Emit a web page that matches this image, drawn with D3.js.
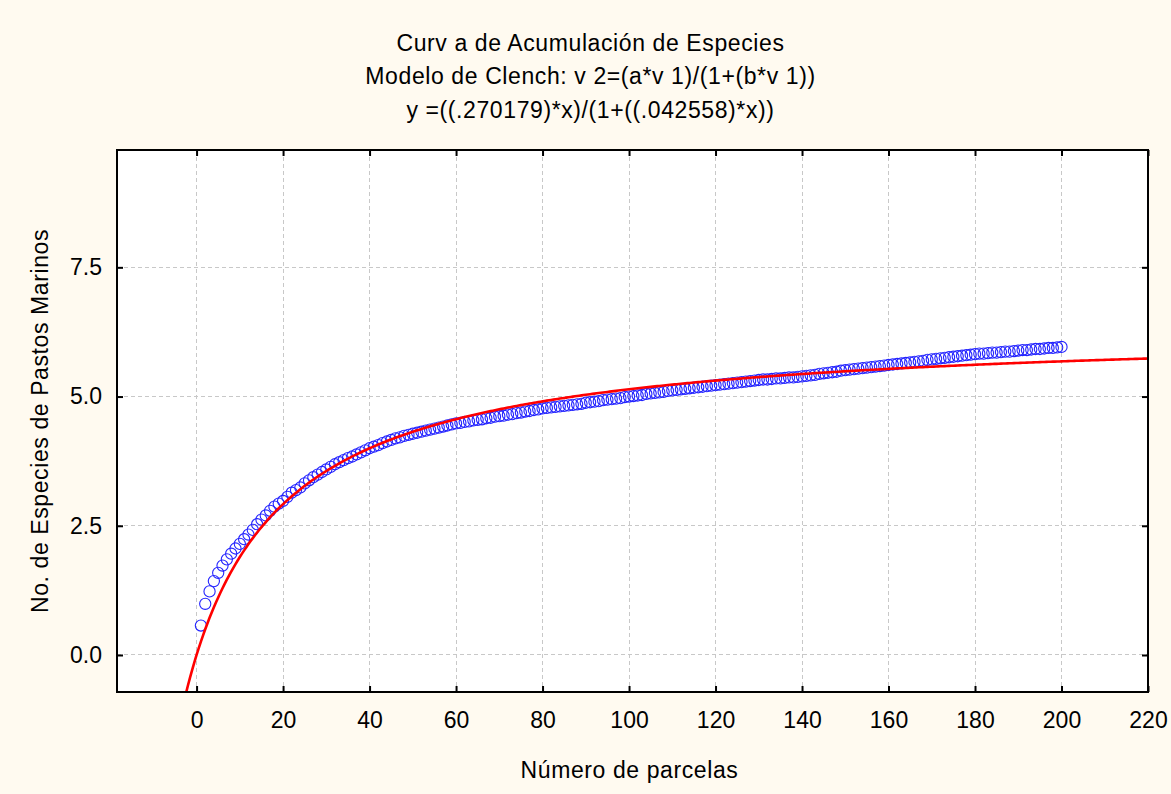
<!DOCTYPE html>
<html>
<head>
<meta charset="utf-8">
<script src="https://cdn.jsdelivr.net/npm/d3@7"></script>
<style>
  body { margin: 0; background: #fffaf0; }
  svg { display: block; font-family: Arial, "Liberation Sans", sans-serif; }
</style>
</head>
<body>
<div class="box"></div>
<script>
let titles = [
    "Curv a de Acumulación de Especies",
    "Modelo de Clench: v 2=(a*v 1)/(1+(b*v 1))",
    "y =((.270179)*x)/(1+((.042558)*x))"
]
let xTitle = "Número de parcelas"
let yTitle = "No. de Especies de Pastos Marinos"
let xTicks = [0, 20, 40, 60, 80, 100, 120, 140, 160, 180, 200, 220]
let yTicks = [0, 2.5, 5, 7.5]

// fitted Clench params (from the title)
let clenchA = 0.270179
let clenchB = 0.042558

// mean accumulated species, parcela 1..200
let especies = [
    0.57, 0.99, 1.23, 1.43, 1.59, 1.73, 1.85, 1.96, 2.06, 2.15,
    2.24, 2.33, 2.42, 2.53, 2.62, 2.70, 2.79, 2.87, 2.93, 2.98,
    3.06, 3.14, 3.19, 3.24, 3.32, 3.38, 3.44, 3.49, 3.54, 3.59,
    3.64, 3.69, 3.73, 3.77, 3.81, 3.84, 3.88, 3.92, 3.96, 4.00,
    4.03, 4.06, 4.10, 4.13, 4.16, 4.19, 4.21, 4.24, 4.26, 4.28,
    4.30, 4.32, 4.34, 4.36, 4.38, 4.40, 4.42, 4.44, 4.46, 4.48,
    4.49, 4.51, 4.52, 4.54, 4.55, 4.56, 4.58, 4.59, 4.61, 4.62,
    4.63, 4.65, 4.66, 4.68, 4.69, 4.71, 4.72, 4.74, 4.75, 4.77,
    4.78, 4.79, 4.80, 4.81, 4.82, 4.83, 4.84, 4.85, 4.86, 4.88,
    4.89, 4.90, 4.91, 4.93, 4.94, 4.95, 4.96, 4.97, 4.99, 5.00,
    5.01, 5.02, 5.03, 5.05, 5.06, 5.07, 5.08, 5.09, 5.11, 5.12,
    5.13, 5.14, 5.15, 5.16, 5.17, 5.18, 5.19, 5.20, 5.21, 5.22,
    5.23, 5.24, 5.25, 5.26, 5.27, 5.28, 5.29, 5.30, 5.31, 5.32,
    5.33, 5.33, 5.34, 5.35, 5.35, 5.36, 5.37, 5.37, 5.38, 5.39,
    5.40, 5.41, 5.42, 5.44, 5.45, 5.46, 5.47, 5.48, 5.50, 5.51,
    5.52, 5.53, 5.54, 5.55, 5.56, 5.57, 5.58, 5.59, 5.60, 5.61,
    5.62, 5.63, 5.64, 5.65, 5.66, 5.67, 5.68, 5.69, 5.71, 5.72,
    5.73, 5.74, 5.75, 5.76, 5.77, 5.78, 5.79, 5.80, 5.81, 5.82,
    5.83, 5.83, 5.84, 5.85, 5.85, 5.86, 5.87, 5.87, 5.88, 5.89,
    5.90, 5.90, 5.91, 5.92, 5.92, 5.93, 5.94, 5.94, 5.95, 5.96
]

let W = 1171
let H = 794
let pL = 117, pR = 1148, pT = 150, pB = 692
let fs = 23
let ls = "0.6px"

let svg = d3.select('.box')
    .append("svg")
    .attr("width", W)
    .attr("height", H)

svg.append("rect")
    .attr("width", W)
    .attr("height", H)
    .style("fill", "#fffaf0")

let x = d3.scaleLinear().domain([-18.4, 220]).range([pL, pR])
let y = d3.scaleLinear().domain([-0.716, 9.77]).range([pB, pT])

svg.append("rect")
    .attr("x", pL)
    .attr("y", pT)
    .attr("width", pR - pL)
    .attr("height", pB - pT)
    .style("fill", "#fff")

svg.append("clipPath").attr("id", "clip")
    .append("rect")
    .attr("x", pL)
    .attr("y", pT)
    .attr("width", pR - pL)
    .attr("height", pB - pT)

// grid
let grid = svg.append("g")
grid.selectAll(".gx").data(xTicks.filter(d => d < 220)).enter()
    .append("line")
    .attr("x1", d => x(d)).attr("x2", d => x(d))
    .attr("y1", pT).attr("y2", pB)
grid.selectAll(".gy").data(yTicks).enter()
    .append("line")
    .attr("x1", pL).attr("x2", pR)
    .attr("y1", d => y(d)).attr("y2", d => y(d))
grid.selectAll("line")
    .style("stroke", "#c8c8c8")
    .style("stroke-width", 1)
    .style("stroke-dasharray", "4,3")
    .attr("shape-rendering", "crispEdges")

// axes, ticks pointing inside on all four sides
let tk = 6
let axB = d3.axisBottom(x).tickValues(xTicks).tickSizeInner(-tk).tickSizeOuter(0).tickPadding(20)
let axT = d3.axisTop(x).tickValues(xTicks).tickSizeInner(-tk).tickSizeOuter(0).tickFormat("")
let axL = d3.axisLeft(y).tickValues(yTicks).tickSizeInner(-tk).tickSizeOuter(0).tickPadding(15).tickFormat(d3.format(".1f"))
let axR = d3.axisRight(y).tickValues(yTicks).tickSizeInner(-tk).tickSizeOuter(0).tickFormat("")

let mk = (ax, tr) => {
    let g = svg.append("g").attr("transform", tr).call(ax)
    g.select(".domain").remove()
    g.selectAll(".tick line").style("stroke", "#000").style("stroke-width", 2)
    g.selectAll("text").style("font-size", fs + "px").style("fill", "#000")
    g.attr("font-family", "Arial, 'Liberation Sans', sans-serif")
    return g
}
mk(axB, `translate(0,${pB})`)
mk(axT, `translate(0,${pT})`)
mk(axL, `translate(${pL},0)`)
mk(axR, `translate(${pR},0)`)

// points
let plot = svg.append("g").attr("clip-path", "url(#clip)")
plot.selectAll("circle").data(especies).enter()
    .append("circle")
    .attr("cx", (d, i) => x(i + 1))
    .attr("cy", d => y(d))
    .attr("r", 5.6)
    .style("fill", "none")
    .style("stroke", "#2424ff")
    .style("stroke-width", 1.1)

// fitted curve
let xs = d3.range(-2.5, 220.5, 0.5)
let line = d3.line()
    .x(d => x(d))
    .y(d => y(clenchA * d / (1 + clenchB * d)))
plot.append("path")
    .datum(xs)
    .attr("d", line)
    .style("fill", "none")
    .style("stroke", "#ff0000")
    .style("stroke-width", 2.6)

// border
svg.append("rect")
    .attr("x", pL)
    .attr("y", pT)
    .attr("width", pR - pL)
    .attr("height", pB - pT)
    .style("fill", "none")
    .style("stroke", "#000")
    .style("stroke-width", 2)

// titles
let baselines = [51, 84, 118]
svg.selectAll(".ttl").data(titles).enter()
    .append("text")
    .attr("x", W / 2 + 5)
    .attr("y", (d, i) => baselines[i])
    .attr("text-anchor", "middle")
    .style("font-size", fs + "px")
    .style("letter-spacing", ls)
    .text(d => d)

svg.append("text")
    .attr("x", (pL + pR) / 2 - 3)
    .attr("y", 778)
    .attr("text-anchor", "middle")
    .style("font-size", fs + "px")
    .style("letter-spacing", ls)
    .text(xTitle)

svg.append("text")
    .attr("transform", `translate(48,${(pT + pB) / 2}) rotate(-90)`)
    .attr("text-anchor", "middle")
    .style("font-size", fs + "px")
    .style("letter-spacing", ls)
    .text(yTitle)
</script>
</body>
</html>
